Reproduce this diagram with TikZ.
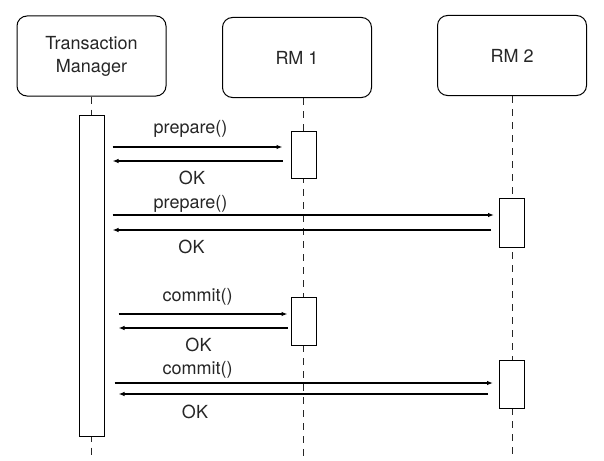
\documentclass[tikz,border=0pt]{standalone}
\usepackage{fontspec}
\setmainfont{TeX Gyre Heros}
\usetikzlibrary{arrows.meta}

\begin{document}
\begin{tikzpicture}[x=1pt, y=-1pt, party/.style={draw, rounded corners=10pt, line width=1pt, minimum width=149pt, minimum height=80pt, align=center, text=black!85, font=\fontsize{18}{23}\selectfont}, lifeline/.style={draw=black!85, line width=0.9pt, dash pattern=on 7pt off 6pt}, activation/.style={draw, fill=white, line width=1pt, minimum width=25pt, inner sep=0pt}, msg/.style={line width=1.1pt, -{Latex[length=6pt,width=4.5pt]}}, lbl/.style={inner sep=0pt, text=black!85, font=\fontsize{18}{21}\selectfont}]

\useasboundingbox (0,0) rectangle (604,460);

\node[party] (tm) at (91.5,56) {Transaction\\Manager};
\node[party] (rm1) at (297,57.5) {RM 1};
\node[party] (rm2) at (512,55.5) {RM 2};

\coordinate (tmtop) at (tm.south);
\coordinate (tmend) at (tmtop |- 0,460);
\coordinate (rm1top) at ([xshift=6.5pt]rm1.south);
\coordinate (rm1end) at (rm1top |- 0,460);
\coordinate (rm2top) at (rm2.south);
\coordinate (rm2end) at (rm2top |- 0,460);

\draw[lifeline] (tmtop) -- (tmend);
\draw[lifeline] (rm1top) -- (rm1end);
\draw[lifeline] (rm2top) -- (rm2end);

\node[activation, minimum height=321pt] (tmact) at (91.5,275.5) {};
\node[activation, minimum height=47pt] (prep1) at (303.5,154.5) {};
\node[activation, minimum height=49pt] (prep2) at (512,222.5) {};
\node[activation, minimum height=48pt] (comm1) at (303.5,321) {};
\node[activation, minimum height=48pt] (comm2) at (512,384) {};

\draw[msg, shorten <=8pt, shorten >=8pt] (tmact.east |- 0,147) -- (prep1.west |- 0,147);
\draw[msg, shorten <=8pt, shorten >=8pt] (prep1.west |- 0,161) -- (tmact.east |- 0,161);
\draw[msg, shorten <=8pt, shorten >=5pt] (tmact.east |- 0,215) -- (prep2.west |- 0,215);
\draw[msg, shorten <=8pt, shorten >=8pt] (prep2.west |- 0,230) -- (tmact.east |- 0,230);
\draw[msg, shorten <=14pt, shorten >=3pt] (tmact.east |- 0,314) -- (comm1.west |- 0,314);
\draw[msg, shorten <=3pt, shorten >=14pt] (comm1.west |- 0,328) -- (tmact.east |- 0,328);
\draw[msg, shorten <=10pt, shorten >=6pt] (tmact.east |- 0,383) -- (comm2.west |- 0,383);
\draw[msg, shorten <=11pt, shorten >=14pt] (comm2.west |- 0,394) -- (tmact.east |- 0,394);

\node[lbl] (req1) at (190.5,129) {prepare()};
\node[lbl] (ok1) at (192,177.5) {OK};
\node[lbl] (req2) at (190.5,204) {prepare()};
\node[lbl] (ok2) at (191.5,247) {OK};
\node[lbl] (req3) at (197.5,296.5) {commit()};
\node[lbl] (ok3) at (198.5,345) {OK};
\node[lbl] (req4) at (197.5,370) {commit()};
\node[lbl] (ok4) at (195,412) {OK};
\end{tikzpicture}
\end{document}
